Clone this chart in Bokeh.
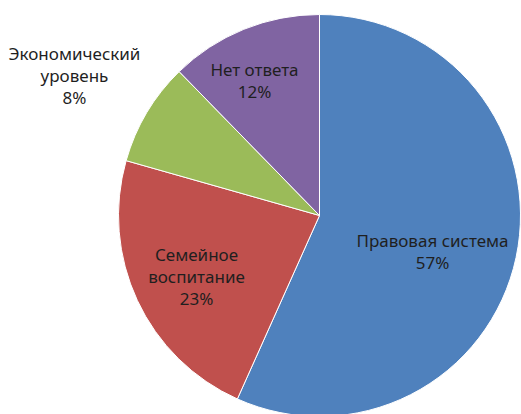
import numpy as np
from bokeh.plotting import figure
from bokeh.models import Range1d, ColumnDataSource
from bokeh.core.properties import value
from bokeh.embed import file_html
from bokeh.resources import INLINE

categories = ["Правовая система", "Семейное воспитание", "Экономический уровень", "Нет ответа"]
label_names = ["Правовая система", "Семейное\nвоспитание", "Экономический\nуровень", "Нет ответа"]
shares = [56.7, 22.7, 8.3, 12.3]  # labels show rounded %
colors = ["#4F81BD", "#C0504D", "#9BBB59", "#8064A2"]

W, H = 521, 414
cx, cy, r = 319, H - 215, 201

fr = np.array(shares, dtype=float) / sum(shares)
cum = np.concatenate([[0], np.cumsum(fr)])
# clockwise from the top
end_ang = np.pi / 2 - cum[:-1] * 2 * np.pi
start_ang = np.pi / 2 - cum[1:] * 2 * np.pi

src = ColumnDataSource(dict(cat=categories, start=start_ang, end=end_ang, color=colors))

p = figure(width=W, height=H, x_range=Range1d(0, W), y_range=Range1d(0, H),
           output_backend="svg", toolbar_location=None, min_border=0)
p.axis.visible = False
p.grid.visible = False
p.outline_line_color = None
p.background_fill_color = "white"

p.wedge(x=cx, y=cy, radius=r, start_angle="start", end_angle="end",
        fill_color="color", line_color="white", line_width=1, source=src)

label_texts = [f"{n}\n{round(f * 100)}%" for n, f in zip(label_names, fr)]
# label anchor points (screen px)
label_x = [432, 196, 74, 254]
label_y = [251, 276, 75, 80]
lsrc = ColumnDataSource(dict(x=label_x, y=[H - v for v in label_y], t=label_texts))
p.text(x="x", y="y", text="t", source=lsrc, text_align="center", text_baseline="middle",
       text_font=value("Noto Sans"), text_font_size="17px", text_color="#1f1f1f",
       text_line_height=0.95)

open("out.html", "w").write(file_html(p, INLINE))
